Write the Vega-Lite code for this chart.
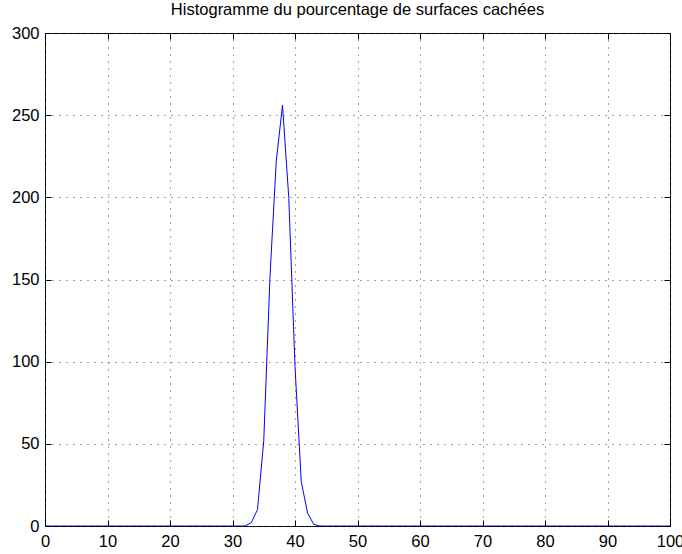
{
  "$schema": "https://vega.github.io/schema/vega-lite/v6.json",
  "autosize": "none",
  "width": 625,
  "height": 493,
  "padding": {"left": 45, "top": 33, "right": 12, "bottom": 28},
  "background": "white",
  "title": {"text": "Histogramme du pourcentage de surfaces cachées", "font": "Liberation Sans", "fontSize": 16.5, "fontWeight": "normal", "color": "black", "offset": 7},
  "config": {
    "view": {"stroke": "black", "strokeWidth": 1},
    "axis": {"labelFont": "Liberation Sans", "labelFontSize": 16.5, "labelColor": "black", "domain": false, "tickColor": "black", "gridColor": "#444444", "gridDash": [1, 6], "gridOpacity": 1, "gridWidth": 1, "title": null}
  },
  "data": {"values": [
    {"x":0,"y":0},{"x":1,"y":0},{"x":2,"y":0},{"x":3,"y":0},{"x":4,"y":0},{"x":5,"y":0},{"x":6,"y":0},{"x":7,"y":0},{"x":8,"y":0},{"x":9,"y":0},
    {"x":10,"y":0},{"x":11,"y":0},{"x":12,"y":0},{"x":13,"y":0},{"x":14,"y":0},{"x":15,"y":0},{"x":16,"y":0},{"x":17,"y":0},{"x":18,"y":0},{"x":19,"y":0},
    {"x":20,"y":0},{"x":21,"y":0},{"x":22,"y":0},{"x":23,"y":0},{"x":24,"y":0},{"x":25,"y":0},{"x":26,"y":0},{"x":27,"y":0},{"x":28,"y":0},{"x":29,"y":0},
    {"x":30,"y":0},{"x":31,"y":0},{"x":32,"y":0},{"x":33,"y":2},{"x":34,"y":10},{"x":35,"y":52},{"x":36,"y":152},{"x":37,"y":222},{"x":38,"y":256},{"x":39,"y":200},
    {"x":40,"y":97},{"x":41,"y":27},{"x":42,"y":8},{"x":43,"y":1},{"x":44,"y":0},{"x":45,"y":0},{"x":46,"y":0},{"x":47,"y":0},{"x":48,"y":0},{"x":49,"y":0},
    {"x":50,"y":0},{"x":51,"y":0},{"x":52,"y":0},{"x":53,"y":0},{"x":54,"y":0},{"x":55,"y":0},{"x":56,"y":0},{"x":57,"y":0},{"x":58,"y":0},{"x":59,"y":0},
    {"x":60,"y":0},{"x":61,"y":0},{"x":62,"y":0},{"x":63,"y":0},{"x":64,"y":0},{"x":65,"y":0},{"x":66,"y":0},{"x":67,"y":0},{"x":68,"y":0},{"x":69,"y":0},
    {"x":70,"y":0},{"x":71,"y":0},{"x":72,"y":0},{"x":73,"y":0},{"x":74,"y":0},{"x":75,"y":0},{"x":76,"y":0},{"x":77,"y":0},{"x":78,"y":0},{"x":79,"y":0},
    {"x":80,"y":0},{"x":81,"y":0},{"x":82,"y":0},{"x":83,"y":0},{"x":84,"y":0},{"x":85,"y":0},{"x":86,"y":0},{"x":87,"y":0},{"x":88,"y":0},{"x":89,"y":0},
    {"x":90,"y":0},{"x":91,"y":0},{"x":92,"y":0},{"x":93,"y":0},{"x":94,"y":0},{"x":95,"y":0},{"x":96,"y":0},{"x":97,"y":0},{"x":98,"y":0},{"x":99,"y":0},
    {"x":100,"y":0}
  ]},
  "layer": [
    {
      "mark": {"type": "line", "color": "#0000ff", "strokeWidth": 1, "opacity": 0},
      "encoding": {
        "x": {"field": "x", "type": "quantitative", "scale": {"domain": [0, 100], "nice": false, "zero": false},
          "axis": {"orient": "top", "values": [0,10,20,30,40,50,60,70,80,90,100], "grid": false, "labels": false, "tickSize": -6}},
        "y": {"field": "y", "type": "quantitative", "scale": {"domain": [0, 300], "nice": false},
          "axis": {"orient": "right", "values": [0,50,100,150,200,250,300], "grid": false, "labels": false, "tickSize": -6}}
      }
    },
    {
      "mark": {"type": "line", "color": "#0000ff", "strokeWidth": 1, "clip": true},
      "encoding": {
        "x": {"field": "x", "type": "quantitative", "scale": {"domain": [0, 100], "nice": false, "zero": false},
          "axis": {"orient": "bottom", "values": [0,10,20,30,40,50,60,70,80,90,100], "grid": true, "tickSize": -6, "labelPadding": 13, "labelFlush": false, "labelOverlap": false}},
        "y": {"field": "y", "type": "quantitative", "scale": {"domain": [0, 300], "nice": false},
          "axis": {"orient": "left", "values": [0,50,100,150,200,250,300], "grid": true, "tickSize": -6, "labelPadding": 12, "labelFlush": false, "labelOverlap": false}}
      }
    }
  ],
  "resolve": {"axis": {"x": "independent", "y": "independent"}}
}
